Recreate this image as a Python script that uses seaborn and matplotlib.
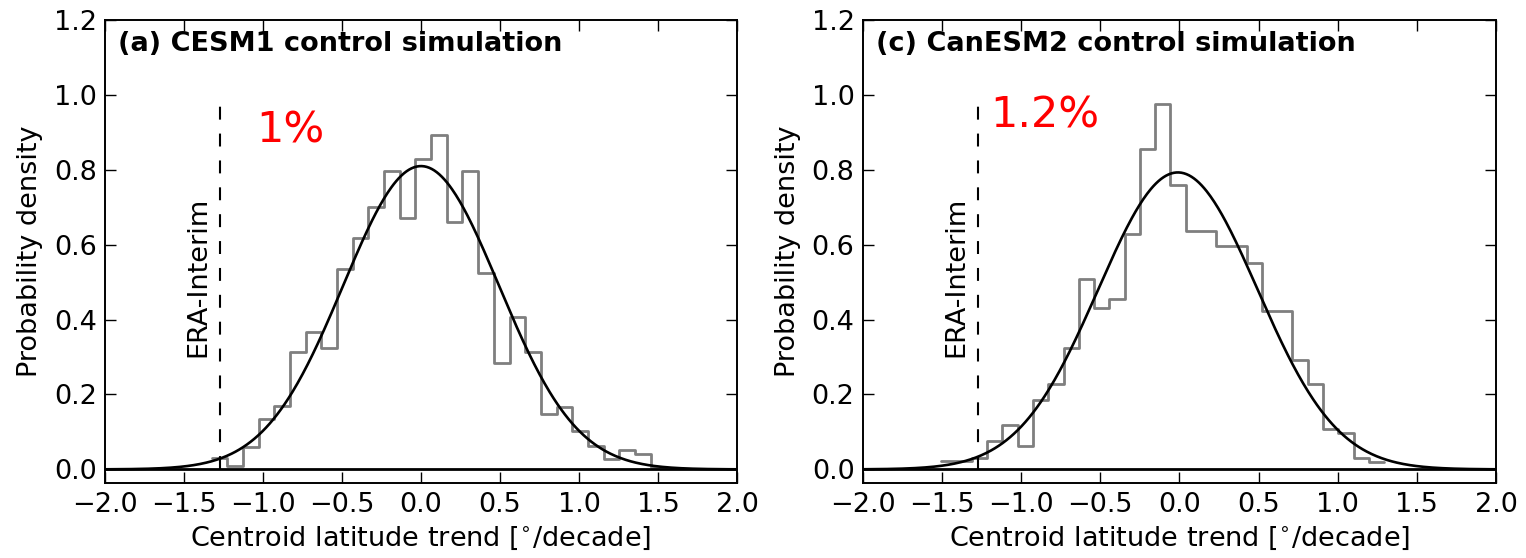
import numpy as np
import pandas as pd
import matplotlib
matplotlib.use("Agg")
import matplotlib.pyplot as plt
import seaborn as sns

# ---------------- data ----------------
titles = ["(a) CESM1 control simulation", "(c) CanESM2 control simulation"]
percent_labels = ["1%", "1.2%"]

# histogram bin range (29 bins each)
cesm_edge_min, cesm_edge_max = -1.325, 1.552
can_edge_min, can_edge_max = -1.504, 1.293
n_bins = 29

cesm_density = [0.031, 0.009, 0.061, 0.135, 0.168, 0.314, 0.366, 0.325, 0.535,
                0.619, 0.702, 0.798, 0.672, 0.828, 0.892, 0.660, 0.798, 0.524,
                0.283, 0.408, 0.314, 0.147, 0.166, 0.103, 0.062, 0.029, 0.051,
                0.041, 0.006]
can_density = [0.022, 0.022, 0.031, 0.075, 0.119, 0.063, 0.184, 0.227, 0.325,
               0.508, 0.432, 0.454, 0.628, 0.856, 0.975, 0.759, 0.638, 0.638,
               0.596, 0.596, 0.552, 0.423, 0.423, 0.291, 0.227, 0.107, 0.097,
               0.031, 0.021]

# fitted normal distributions (mean, std)
cesm_fit = (0.0, 0.4925)
can_fit = (-0.01, 0.503)

era_interim_trend = -1.27

xticks = [-2.0, -1.5, -1.0, -0.5, 0.0, 0.5, 1.0, 1.5, 2.0]
yticks = [0.0, 0.2, 0.4, 0.6, 0.8, 1.0, 1.2]

# ---------------- style ----------------
sns.set_style("ticks")
plt.rcParams["font.family"] = ["DejaVu Sans"]
FS = 19.5
plt.rcParams.update({
    "xtick.direction": "in", "ytick.direction": "in",
    "xtick.top": True, "ytick.right": True,
    "xtick.major.size": 8, "ytick.major.size": 8,
    "xtick.major.width": 1.0, "ytick.major.width": 1.0,
    "axes.linewidth": 1.4,
    "axes.edgecolor": "black",
    "text.color": "black", "axes.labelcolor": "black",
    "xtick.color": "black", "ytick.color": "black",
    "font.size": FS,
})

fig = plt.figure(figsize=(15.26, 5.58), dpi=100)
positions = [[0.0688, 0.134, 0.4142, 0.830], [0.5655, 0.134, 0.4148, 0.830]]

panels = [
    (cesm_edge_min, cesm_edge_max, cesm_density, cesm_fit),
    (can_edge_min, can_edge_max, can_density, can_fit),
]

for i, (emin, emax, dens, fit) in enumerate(panels):
    ax = fig.add_axes(positions[i])
    edges = np.linspace(emin, emax, n_bins + 1)
    centers = 0.5 * (edges[:-1] + edges[1:])
    df = pd.DataFrame({"x": centers, "w": dens})
    sns.histplot(data=df, x="x", weights="w", bins=edges.tolist(), element="step",
                 fill=False, color="#7f7f7f", linewidth=2.0, ax=ax)
    xs = np.linspace(-2, 2, 500)
    mu, sd = fit
    pdf = np.exp(-0.5 * ((xs - mu) / sd) ** 2) / (sd * np.sqrt(2 * np.pi))
    sns.lineplot(x=xs, y=pdf, color="black", linewidth=1.9, ax=ax)
    ax.axhline(0, color="black", linewidth=2.0)
    ax.plot([era_interim_trend, era_interim_trend], [0, 0.98], color="black",
            linestyle=(0, (6.2, 6.7)), linewidth=1.5)
    ax.text(era_interim_trend - 0.055, 0.515, "ERA-Interim", rotation=90,
            ha="right", va="center", fontsize=FS)
    if i == 0:
        ax.text(-1.045, 0.905, percent_labels[i], color="red", fontsize=31,
                ha="left", va="center")
    else:
        ax.text(-1.195, 0.945, percent_labels[i], color="red", fontsize=31,
                ha="left", va="center")
    ax.text(-1.92, 1.172, titles[i], fontsize=FS, fontweight="bold",
            ha="left", va="top")
    ax.set_xlim(-2, 2)
    ax.set_ylim(-0.037, 1.2)
    ax.set_xticks(xticks)
    ax.set_yticks(yticks)
    ax.set_xticklabels([f"{t:.1f}".replace("-", "\u2212") for t in xticks])
    ax.set_yticklabels([f"{t:.1f}" for t in yticks])
    ax.tick_params(labelsize=FS, pad=6)
    ax.set_xlabel("Centroid latitude trend [$^{\\circ}$/decade]", fontsize=FS, labelpad=5)
    ax.set_ylabel("Probability density", fontsize=FS, labelpad=8)
    for s in ax.spines.values():
        s.set_visible(True)

fig.savefig("out.png", dpi=100)
